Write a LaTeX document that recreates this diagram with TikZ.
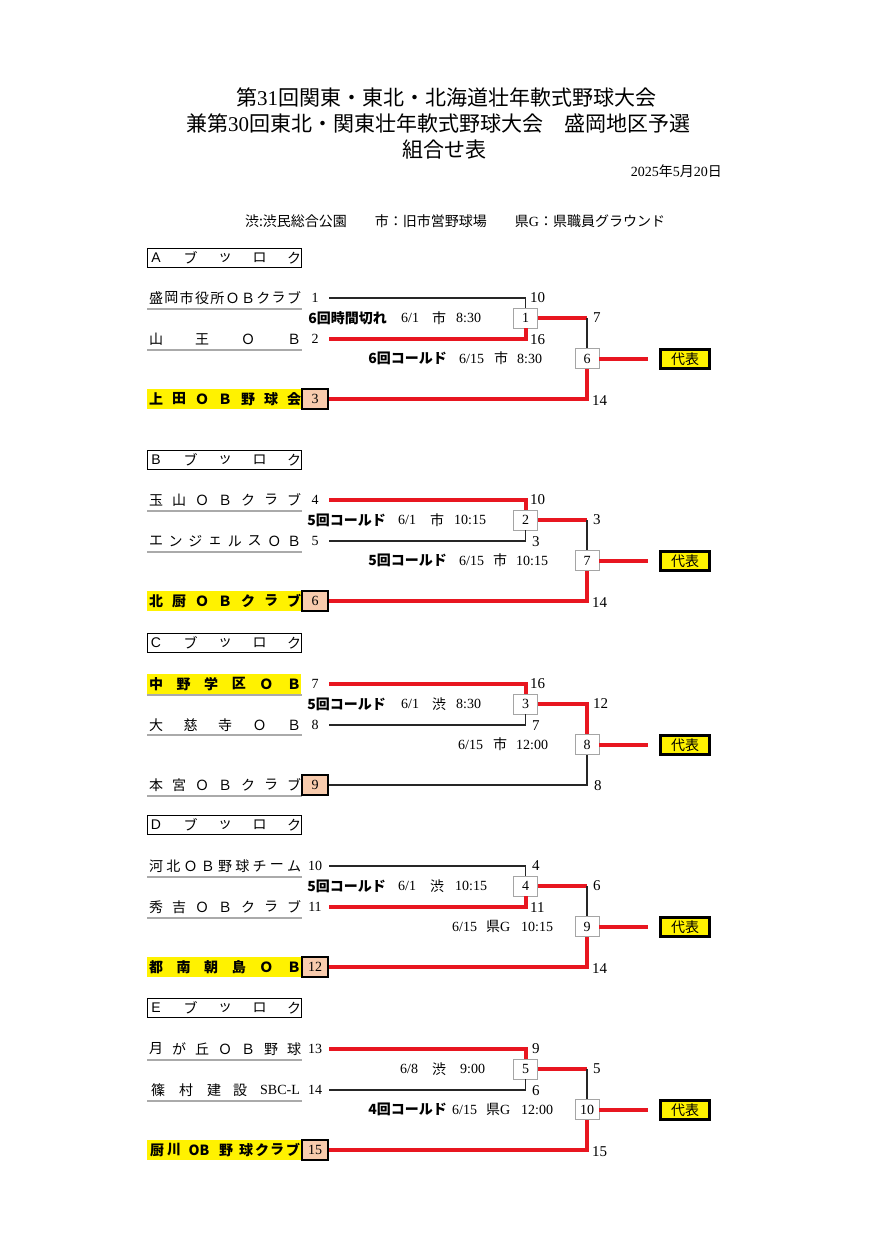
\documentclass[tikz,border=0pt]{standalone}
\usepackage{fontspec}
\setmainfont{Noto Sans CJK JP}
\newfontfamily\tm{Liberation Serif}
\newfontfamily\ar{Liberation Sans}
\usetikzlibrary{calc}
\definecolor{redl}{RGB}{232,22,32}
\definecolor{yel}{RGB}{255,242,0}
\definecolor{salmon}{RGB}{248,203,173}
\definecolor{ulgray}{RGB}{170,170,170}
\definecolor{boxgray}{RGB}{165,165,165}
\newcommand\spreadrow[5]{%
  \foreach \ch [count=\i from 0] in {#5} {
    \pgfmathsetmacro\xx{156+\i*138/(#3-1)}
    \node[#4] (#1-\i) at (\xx,#2) {\ch};
  }}
\tikzset{
  nm/.style={inner sep=0, font=\fontsize{14}{14}\selectfont},
  nmb/.style={inner sep=0, font=\fontsize{14}{14}\selectfont\bfseries},
  hch/.style={inner sep=0, font=\fontsize{14}{14}\selectfont},
  num/.style={inner sep=0, font=\tm\fontsize{14}{14}\selectfont},
  sc/.style={inner sep=0, anchor=west, font=\tm\fontsize{15}{15}\selectfont},
  lbp/.style={inner sep=0, anchor=east, font=\fontsize{14}{14}\selectfont\bfseries},
  lbd/.style={inner sep=0, anchor=west, font=\tm\fontsize{14}{14}\selectfont},
  lbv/.style={inner sep=0, font=\fontsize{14}{14}\selectfont},
  lbg/.style={inner sep=0, anchor=west, font=\fontsize{14}{14}\selectfont},
  match/.style={draw=boxgray, fill=white, line width=0.9pt, minimum width=24pt, minimum height=20pt, inner sep=0, font=\tm\fontsize{14}{14}\selectfont},
  seed/.style={draw=black, fill=salmon, line width=2.4pt, minimum width=26pt, minimum height=20pt, inner sep=0, font=\tm\fontsize{14}{14}\selectfont},
  rep/.style={draw=black, fill=yel, line width=2.4pt, minimum width=49pt, minimum height=19pt, inner sep=0, font=\fontsize{14}{14}\selectfont},
  hdr/.style={draw=black, line width=1.3pt, minimum width=154pt, minimum height=19pt, inner sep=0},
  yband/.style={fill=yel, minimum width=154pt, minimum height=20pt, inner sep=0},
  win/.style={draw=redl, line width=4pt},
  lose/.style={draw=black!85, line width=1.1pt},
  uline/.style={draw=ulgray, line width=1.2pt},
}
\begin{document}
\begin{tikzpicture}[x=1pt,y=-1pt]
\useasboundingbox (0,0) rectangle (882,1249);
% titles
\node[font=\fontsize{21}{21}\selectfont, inner sep=0] (title1) at (446,98) {第{\tm 31}回関東・東北・北海道壮年軟式野球大会};
\node[font=\fontsize{21}{21}\selectfont, inner sep=0] (title2) at (438,124) {兼第{\tm 30}回東北・関東壮年軟式野球大会　盛岡地区予選};
\node[font=\fontsize{21}{21}\selectfont, inner sep=0] (title3) at (444,150) {組合せ表};
\node[font=\fontsize{14}{14}\selectfont, inner sep=0, anchor=east] (date) at (722,171) {{\tm 2025}年{\tm 5}月{\tm 20}日};
\node[font=\fontsize{14}{14}\selectfont, inner sep=0] (legend) at (455,221) {渋:渋民総合公園　　市：旧市営野球場　　県{\tm G}：県職員グラウンド};

% ================= A block
\node[hdr] (hA) at (224.5,258) {};
\spreadrow{hAc}{258}{5}{hch}{{\ar A},ブ,ッ,ロ,ク}
\spreadrow{t1}{298}{10}{nm}{盛,岡,市,役,所,Ｏ,Ｂ,ク,ラ,ブ}
\draw[uline] (147,309) -- (302,309);
\node[num] (n1) at (315,298) {1};
\coordinate (s1) at (329,298);
\node[match] (m1) at (525.5,318) {1};
\draw[lose] (s1) -| (m1.north);
\node[sc] (sc1) at (530,298) {10};
\spreadrow{t2}{339}{4}{nm}{山,王,Ｏ,Ｂ}
\draw[uline] (147,350) -- (302,350);
\node[num] (n2) at (315,339) {2};
\coordinate (s2) at (329,339);
\draw[win] (s2) -| (m1.south);
\node[sc] (sc2) at (530,340) {16};
\node[lbp] (l1p) at (387,318) {6回時間切れ};
\node[lbd] (l1d) at (401,318) {6/1};
\node[lbv] (l1v) at (439,318) {市};
\node[lbd] (l1t) at (456,318) {8:30};
\node[match] (m6) at (587,358.5) {6};
\draw[win] (m1.east) -- (m1 -| m6);
\draw[lose] (m1 -| m6) -- (m6.north);
\node[sc] (sc6) at (593,318) {7};
\node[lbp] (l6p) at (447,358.5) {6回コールド};
\node[lbd] (l6d) at (459,358.5) {6/15};
\node[lbv] (l6v) at (501,358.5) {市};
\node[lbd] (l6t) at (517,358.5) {8:30};
\coordinate (r6) at (648,358.5);
\draw[win] (m6.east) -- (r6);
\node[rep] (rep6) at (685,359) {代表};
\node[yband] (y3) at (224,399) {};
\spreadrow{t3}{399}{7}{nmb}{上,田,Ｏ,Ｂ,野,球,会}
\node[seed] (n3) at (315,399) {3};
\draw[win] (n3.east) -| (m6.south);
\node[sc] (sc3) at (592,401) {14};

% ================= B block
\node[hdr] (hB) at (224.5,460) {};
\spreadrow{hBc}{460}{5}{hch}{{\ar B},ブ,ッ,ロ,ク}
\spreadrow{t4}{500}{7}{nm}{玉,山,Ｏ,Ｂ,ク,ラ,ブ}
\draw[uline] (147,511) -- (302,511);
\node[num] (n4) at (315,500) {4};
\coordinate (s4) at (329,500);
\node[match] (m2) at (525.5,520) {2};
\draw[win] (s4) -| (m2.north);
\node[sc] (sc4) at (530,500) {10};
\spreadrow{t5}{541}{8}{nm}{エ,ン,ジ,ェ,ル,ス,Ｏ,Ｂ}
\draw[uline] (147,552) -- (302,552);
\node[num] (n5) at (315,541) {5};
\coordinate (s5) at (329,541);
\draw[lose] (s5) -| (m2.south);
\node[sc] (sc5) at (532,542) {3};
\node[lbp] (l2p) at (386,520) {5回コールド};
\node[lbd] (l2d) at (398,520) {6/1};
\node[lbv] (l2v) at (437,520) {市};
\node[lbd] (l2t) at (454,520) {10:15};
\node[match] (m7) at (587,560.5) {7};
\draw[win] (m2.east) -- (m2 -| m7);
\draw[lose] (m2 -| m7) -- (m7.north);
\node[sc] (sc7) at (593,520) {3};
\node[lbp] (l7p) at (447,560.5) {5回コールド};
\node[lbd] (l7d) at (459,560.5) {6/15};
\node[lbv] (l7v) at (500,560.5) {市};
\node[lbd] (l7t) at (516,560.5) {10:15};
\coordinate (r7) at (648,560.5);
\draw[win] (m7.east) -- (r7);
\node[rep] (rep7) at (685,561) {代表};
\node[yband] (y6) at (224,601) {};
\spreadrow{t6}{601}{7}{nmb}{北,厨,Ｏ,Ｂ,ク,ラ,ブ}
\node[seed] (n6) at (315,601) {6};
\draw[win] (n6.east) -| (m7.south);
\node[sc] (sc8) at (592,603) {14};

% ================= C block
\node[hdr] (hC) at (224.5,643) {};
\spreadrow{hCc}{643}{5}{hch}{{\ar C},ブ,ッ,ロ,ク}
\node[yband] (y7) at (224,684) {};
\spreadrow{t7}{684}{6}{nmb}{中,野,学,区,Ｏ,Ｂ}
\draw[uline] (147,695) -- (302,695);
\node[num] (n7) at (315,684) {7};
\coordinate (s7) at (329,684);
\node[match] (m3) at (525.5,704) {3};
\draw[win] (s7) -| (m3.north);
\node[sc] (sc9) at (530,684) {16};
\spreadrow{t8}{725}{5}{nm}{大,慈,寺,Ｏ,Ｂ}
\draw[uline] (147,735) -- (302,735);
\node[num] (n8) at (315,725) {8};
\coordinate (s8) at (329,725);
\draw[lose] (s8) -| (m3.south);
\node[sc] (sc10) at (532,726) {7};
\node[lbp] (l3p) at (386,704) {5回コールド};
\node[lbd] (l3d) at (401,704) {6/1};
\node[lbv] (l3v) at (439,704) {渋};
\node[lbd] (l3t) at (456,704) {8:30};
\node[match] (m8) at (587,744.5) {8};
\draw[win] (m3.east) -| (m8.north);
\node[sc] (sc11) at (593,704) {12};
\node[lbd] (l8d) at (458,744.5) {6/15};
\node[lbv] (l8v) at (500,744.5) {市};
\node[lbd] (l8t) at (516,744.5) {12:00};
\coordinate (r8) at (648,744.5);
\draw[win] (m8.east) -- (r8);
\node[rep] (rep8) at (685,745) {代表};
\spreadrow{t9}{785}{7}{nm}{本,宮,Ｏ,Ｂ,ク,ラ,ブ}
\draw[uline] (147,796) -- (302,796);
\node[seed] (n9) at (315,785) {9};
\draw[lose] (n9.east) -| (m8.south);
\node[sc] (sc12) at (594,786) {8};

% ================= D block
\node[hdr] (hD) at (224.5,825) {};
\spreadrow{hDc}{825}{5}{hch}{{\ar D},ブ,ッ,ロ,ク}
\spreadrow{t10}{866}{9}{nm}{河,北,Ｏ,Ｂ,野,球,チ,ー,ム}
\draw[uline] (147,877) -- (302,877);
\node[num] (n10) at (315,866) {10};
\coordinate (s10) at (329,866);
\node[match] (m4) at (525.5,886) {4};
\draw[lose] (s10) -| (m4.north);
\node[sc] (sc13) at (532,866) {4};
\spreadrow{t11}{907}{7}{nm}{秀,吉,Ｏ,Ｂ,ク,ラ,ブ}
\draw[uline] (147,918) -- (302,918);
\node[num] (n11) at (315,907) {11};
\coordinate (s11) at (329,907);
\draw[win] (s11) -| (m4.south);
\node[sc] (sc14) at (530,908) {11};
\node[lbp] (l4p) at (386,886) {5回コールド};
\node[lbd] (l4d) at (398,886) {6/1};
\node[lbv] (l4v) at (437,886) {渋};
\node[lbd] (l4t) at (455,886) {10:15};
\node[match] (m9) at (587,926.5) {9};
\draw[win] (m4.east) -- (m4 -| m9);
\draw[lose] (m4 -| m9) -- (m9.north);
\node[sc] (sc15) at (593,886) {6};
\node[lbd] (l9d) at (452,926.5) {6/15};
\node[lbg] (l9v) at (486,926.5) {県{\tm G}};
\node[lbd] (l9t) at (521,926.5) {10:15};
\coordinate (r9) at (648,926.5);
\draw[win] (m9.east) -- (r9);
\node[rep] (rep9) at (685,927) {代表};
\node[yband] (y12) at (224,967) {};
\spreadrow{t12}{967}{6}{nmb}{都,南,朝,島,Ｏ,Ｂ}
\node[seed] (n12) at (315,967) {12};
\draw[win] (n12.east) -| (m9.south);
\node[sc] (sc16) at (592,969) {14};

% ================= E block
\node[hdr] (hE) at (224.5,1008) {};
\spreadrow{hEc}{1008}{5}{hch}{{\ar E},ブ,ッ,ロ,ク}
\spreadrow{t13}{1049}{7}{nm}{月,が,丘,Ｏ,Ｂ,野,球}
\draw[uline] (147,1060) -- (302,1060);
\node[num] (n13) at (315,1049) {13};
\coordinate (s13) at (329,1049);
\node[match] (m5) at (525.5,1069) {5};
\draw[win] (s13) -| (m5.north);
\node[sc] (sc17) at (532,1049) {9};
\node[nm] (t14a) at (158,1090) {篠};
\node[nm] (t14b) at (186,1090) {村};
\node[nm] (t14c) at (214,1090) {建};
\node[nm] (t14d) at (240,1090) {設};
\node[num, anchor=east] (t14e) at (300,1090) {SBC-L};
\draw[uline] (147,1101) -- (302,1101);
\node[num] (n14) at (315,1090) {14};
\coordinate (s14) at (329,1090);
\draw[lose] (s14) -| (m5.south);
\node[sc] (sc18) at (532,1091) {6};
\node[lbd] (l5d) at (400,1069) {6/8};
\node[lbv] (l5v) at (439,1069) {渋};
\node[lbd] (l5t) at (460,1069) {9:00};
\node[match] (m10) at (587,1109.5) {10};
\draw[win] (m5.east) -- (m5 -| m10);
\draw[lose] (m5 -| m10) -- (m10.north);
\node[sc] (sc19) at (593,1069) {5};
\node[lbp] (l10p) at (447,1109.5) {4回コールド};
\node[lbd] (l10d) at (452,1109.5) {6/15};
\node[lbg] (l10v) at (486,1109.5) {県{\tm G}};
\node[lbd] (l10t) at (521,1109.5) {12:00};
\coordinate (r10) at (648,1109.5);
\draw[win] (m10.east) -- (r10);
\node[rep] (rep10) at (685,1110) {代表};
\node[yband] (y15) at (224,1150) {};
\node[nmb] (t15a) at (157,1150) {厨};
\node[nmb] (t15b) at (174,1150) {川};
\node[nmb] (t15c) at (199,1150) {OB};
\node[nmb] (t15d) at (226,1150) {野};
\node[nmb] (t15e) at (246,1150) {球};
\node[nmb] (t15f) at (262,1150) {ク};
\node[nmb] (t15g) at (277,1150) {ラ};
\node[nmb] (t15h) at (293,1150) {ブ};
\node[seed] (n15) at (315,1150) {15};
\draw[win] (n15.east) -| (m10.south);
\node[sc] (sc20) at (592,1152) {15};
\end{tikzpicture}
\end{document}
